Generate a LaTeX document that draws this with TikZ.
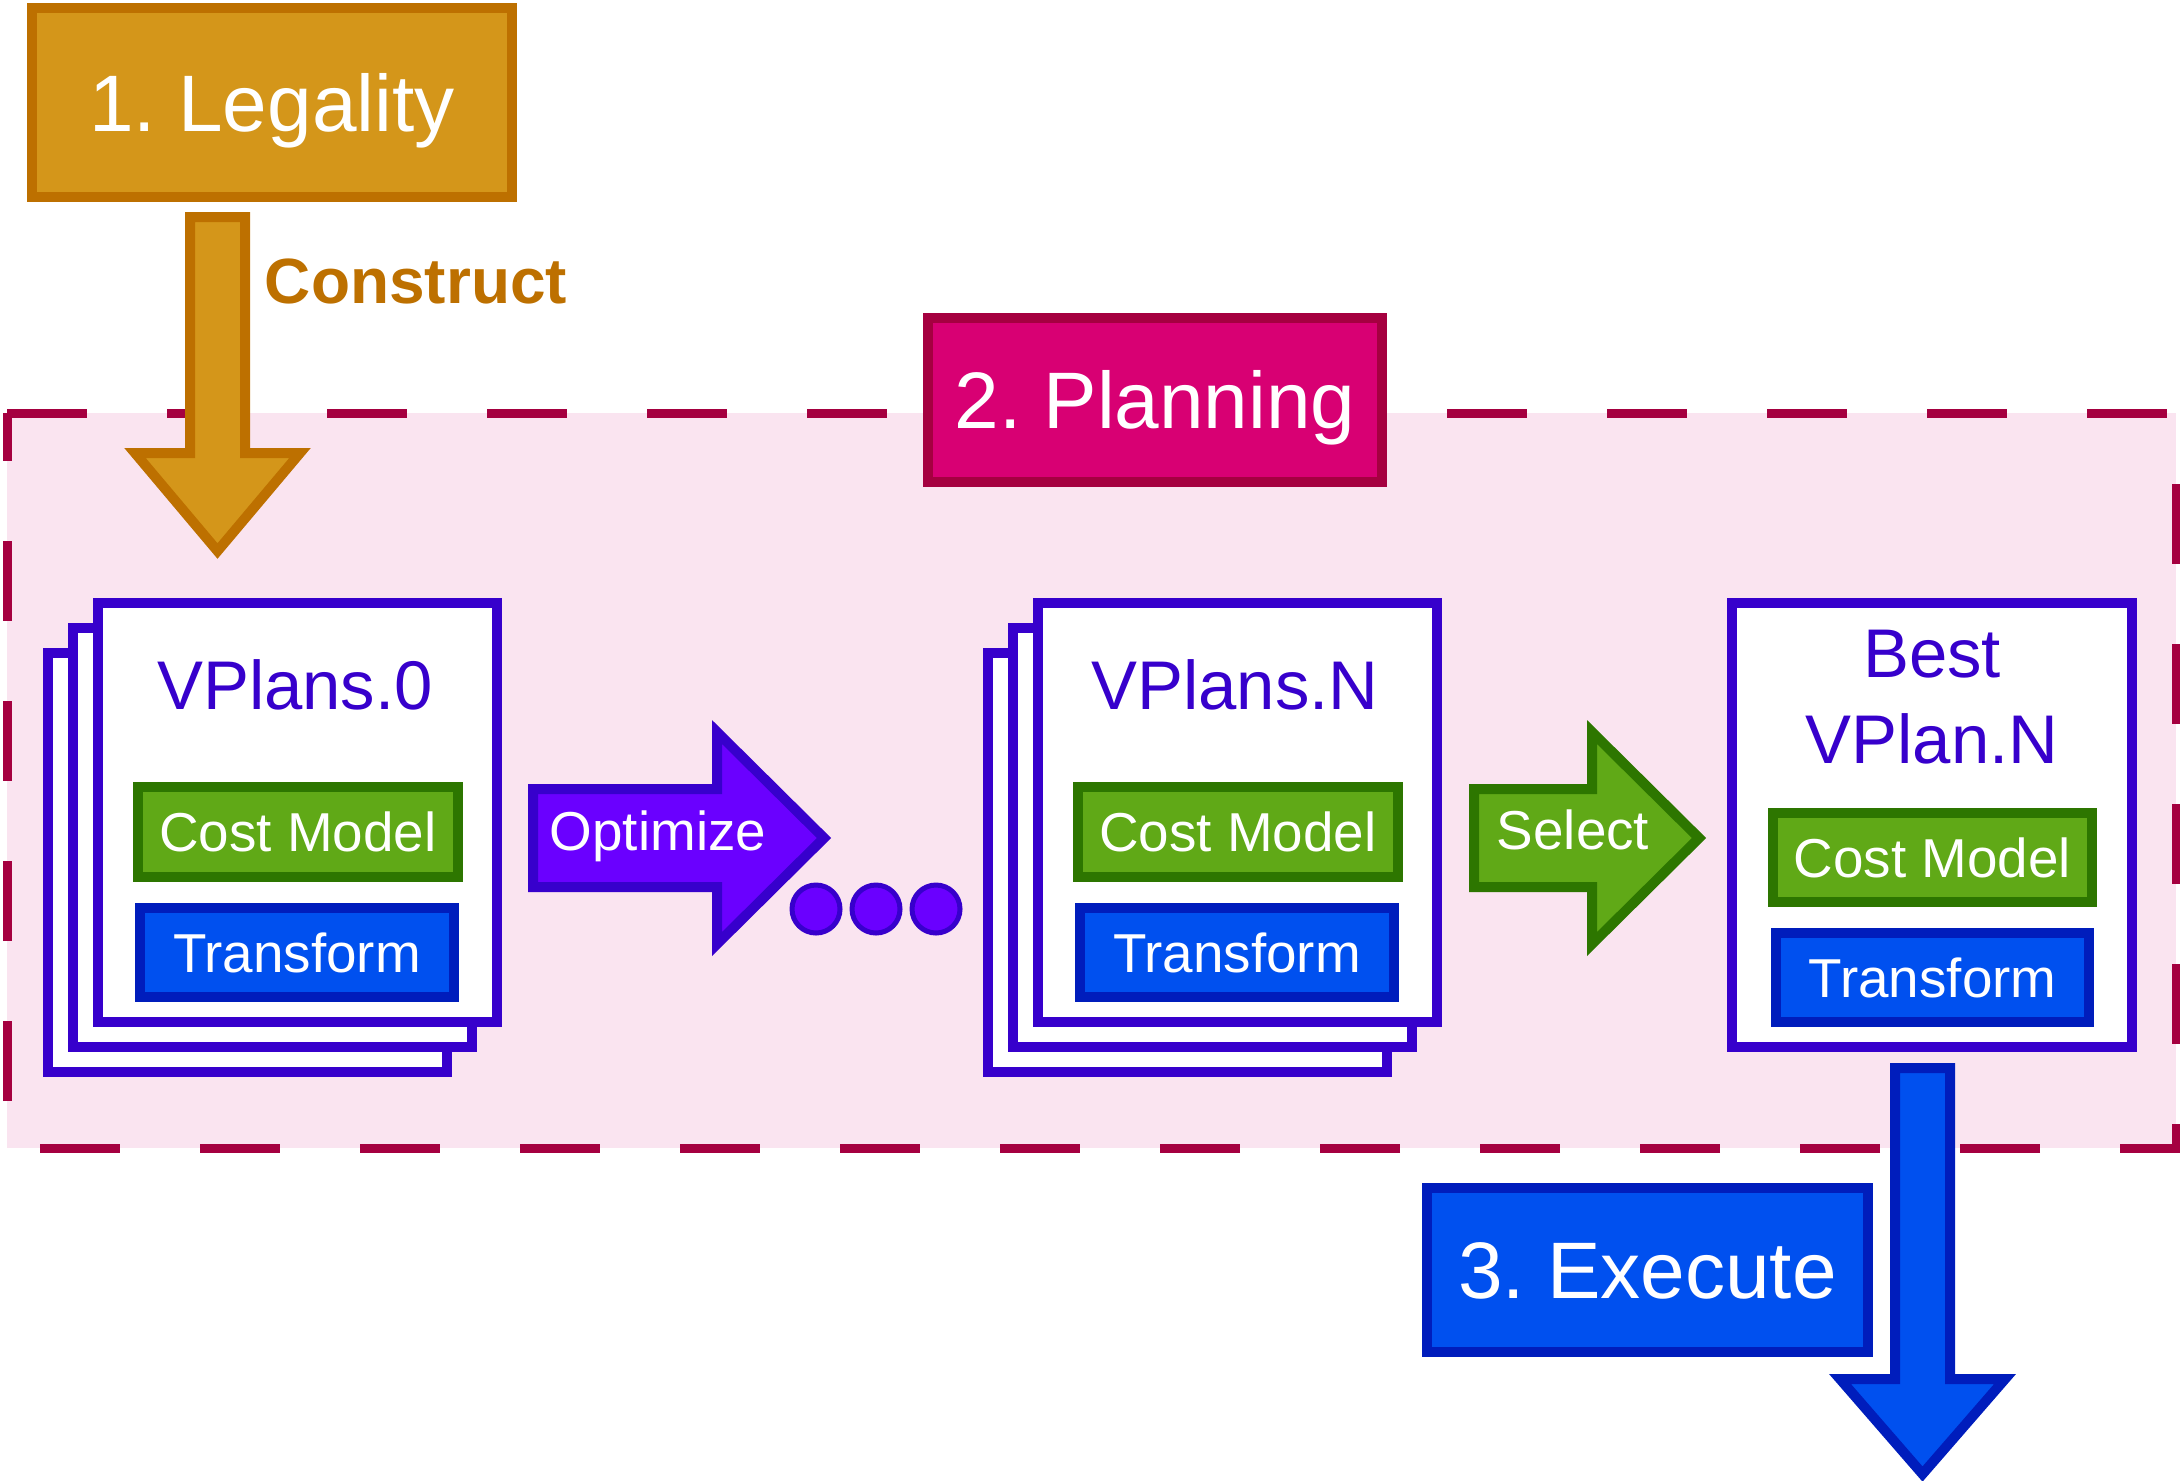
\documentclass[tikz,border=0pt]{standalone}
\usepackage{fontspec}
\setmainfont{Liberation Sans}
\usepackage{tikz}
\frenchspacing
\definecolor{amberfill}{HTML}{D4961A}
\definecolor{amberline}{HTML}{BD7000}
\definecolor{magentafill}{HTML}{D80073}
\definecolor{magentaline}{HTML}{A50040}
\definecolor{pinkzone}{HTML}{FAE4F0}
\definecolor{violetfill}{HTML}{6A00FF}
\definecolor{violetline}{HTML}{3700CC}
\definecolor{greenfill}{HTML}{60A917}
\definecolor{greenline}{HTML}{2D7600}
\definecolor{bluefill}{HTML}{0050EF}
\definecolor{blueline}{HTML}{001DBC}
\tikzstyle{stage} = [rectangle, line width=0.1cm, text=white, text height=0.573cm, text depth=0pt, font=\fontsize{22.8}{27}\selectfont]
\tikzstyle{plancard} = [rectangle, line width=0.1cm, draw=violetline, fill=white, minimum width=3.99cm, minimum height=4.19cm]
\tikzstyle{plantitle} = [text=violetline, align=center, font=\fontsize{19.6}{24.5}\selectfont]
\tikzstyle{costbox} = [rectangle, line width=0.1cm, draw=greenline, fill=greenfill, text=white, minimum width=3.2cm, minimum height=0.9cm, text height=0.394cm, text depth=0pt, font=\fontsize{15.6}{19}\selectfont]
\tikzstyle{transbox} = [rectangle, line width=0.1cm, draw=blueline, fill=bluefill, text=white, minimum width=3.14cm, minimum height=0.89cm, text height=0.394cm, text depth=0pt, font=\fontsize{15.6}{19}\selectfont]
\tikzstyle{blockarrow} = [line width=0.1cm, line join=miter]
\tikzstyle{arrowtext} = [text=white, text height=0.394cm, text depth=0pt, font=\fontsize{15.6}{19}\selectfont]
\tikzstyle{moredot} = [circle, line width=0.05cm, draw=violetline, fill=violetfill, minimum size=0.48cm, inner sep=0pt]
\tikzstyle{zone} = [line width=0.09cm, draw=magentaline, fill=pinkzone, dash pattern=on 0.8cm off 0.8cm]

\begin{document}
\begin{tikzpicture}
			\useasboundingbox (0,0) rectangle (21.8,-14.8);
			
			% Area planning (garis putus-putus)
			\draw [zone] (0.07,-4.13) -- (21.76,-4.13) -- (21.76,-11.48) -- (0.07,-11.48) -- cycle;
			\node (planning) [stage, draw=magentaline, fill=magentafill, minimum width=4.54cm, minimum height=1.64cm] at (11.55,-4.00) {2. Planning};
			
			% Panah construct
			\draw [blockarrow, draw=amberline, fill=amberfill] (1.90,-2.17) -- (2.45,-2.17) -- (2.45,-4.53) -- (3.00,-4.53) -- (2.175,-5.51) -- (1.35,-4.53) -- (1.90,-4.53) -- cycle;
			
			% Tumpukan VPlans.0
			\node (plan0c) [plancard] at (2.475,-8.625) {};
			\node (plan0b) [plancard] at (2.725,-8.375) {};
			\node (plan0a) [plancard] at (2.975,-8.125) {};
			\node (plan0title) [plantitle] at (2.95,-6.85) {VPlans.0};
			\node (plan0cost) [costbox] at (2.98,-8.32) {Cost Model};
			\node (plan0trans) [transbox] at (2.97,-9.525) {Transform};
			
			% Panah optimize dan titik-titik
			\draw [blockarrow, draw=violetline, fill=violetfill] (5.33,-7.89) -- (7.17,-7.89) -- (7.17,-7.32) -- (8.24,-8.38) -- (7.17,-9.44) -- (7.17,-8.87) -- (5.33,-8.87) -- cycle;
			\node (optimize) [arrowtext] at (6.58,-8.31) {Optimize};
			\node (dot1) [moredot] at (8.16,-9.09) {};
			\node (dot2) [moredot] at (8.76,-9.09) {};
			\node (dot3) [moredot] at (9.36,-9.09) {};
			
			% Tumpukan VPlans.N
			\node (planNc) [plancard] at (11.875,-8.625) {};
			\node (planNb) [plancard] at (12.125,-8.375) {};
			\node (planNa) [plancard] at (12.375,-8.125) {};
			\node (planNtitle) [plantitle] at (12.35,-6.85) {VPlans.N};
			\node (planNcost) [costbox] at (12.38,-8.32) {Cost Model};
			\node (planNtrans) [transbox] at (12.37,-9.525) {Transform};
			
			% Panah select
			\draw [blockarrow, draw=greenline, fill=greenfill] (14.74,-7.89) -- (15.92,-7.89) -- (15.92,-7.32) -- (16.99,-8.38) -- (15.92,-9.44) -- (15.92,-8.87) -- (14.74,-8.87) -- cycle;
			\node (select) [arrowtext] at (15.73,-8.30) {Select};
			
			% Best VPlan.N
			\node (best) [plancard, minimum width=4.0cm, minimum height=4.44cm] at (19.32,-8.25) {};
			\node (besttitle) [plantitle] at (19.32,-6.975) {Best\\VPlan.N};
			\node (bestcost) [costbox, minimum width=3.19cm, minimum height=0.89cm] at (19.325,-8.575) {Cost Model};
			\node (besttrans) [transbox, minimum width=3.13cm] at (19.325,-9.775) {Transform};
			
			% Panah execute
			\draw [blockarrow, draw=blueline, fill=bluefill] (18.95,-10.68) -- (19.50,-10.68) -- (19.50,-13.79) -- (20.05,-13.79) -- (19.225,-14.74) -- (18.40,-13.79) -- (18.95,-13.79) -- cycle;
			\node (execute) [stage, draw=blueline, fill=bluefill, minimum width=4.41cm, minimum height=1.64cm] at (16.475,-12.70) {3. Execute};
			
			% Legality dan label construct
			\node (legality) [stage, draw=amberline, fill=amberfill, minimum width=4.8cm, minimum height=1.89cm] at (2.72,-1.025) {1. Legality};
			\node (construct) [text=amberline, text height=0.458cm, text depth=0pt, font=\fontsize{18.2}{22}\selectfont\bfseries] at (4.16,-2.81) {Construct};
			
		\end{tikzpicture}
\end{document}
